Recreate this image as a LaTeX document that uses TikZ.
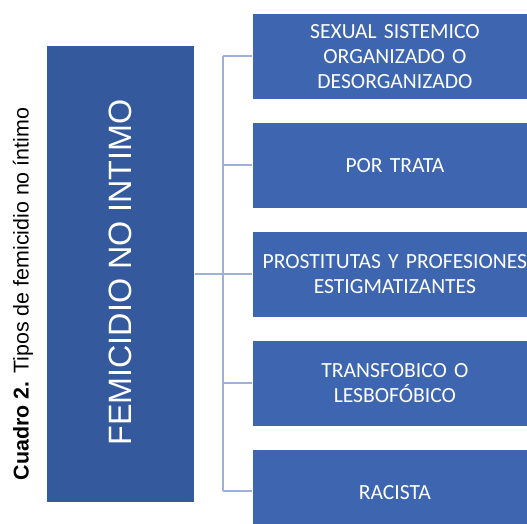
\documentclass[tikz,border=0pt]{standalone}
\usepackage{fontspec}
\setmainfont{Liberation Sans}
\newfontfamily\calfont[WordSpace=0.85]{Carlito}
\definecolor{leftblue}{HTML}{345A9D}
\definecolor{rightblue}{HTML}{3E66B0}
\definecolor{linkblue}{HTML}{9DB0DC}
\begin{document}
\begin{tikzpicture}[x=1pt,y=-1pt,
  mainbox/.style={fill=leftblue,draw=white,line width=0.8pt,inner sep=0pt},
  subbox/.style={fill=rightblue,draw=white,line width=0.8pt,inner sep=0pt,
    minimum width=285pt,minimum height=86pt,anchor=north west,
    text=white,font=\calfont\fontsize{21.6}{25}\selectfont,align=center,text width=285pt},
  link/.style={draw=linkblue,line width=1.2pt}]
\useasboundingbox (0,0) rectangle (527,523);
\clip (0,0) rectangle (527,523);
\node[mainbox,minimum width=148pt,minimum height=457pt,anchor=north west] (main) at (46,45) {};
\node[rotate=90,text=white,font=\fontsize{32.3}{36}\selectfont] (maintext) at (120,272.5) {FEMICIDIO NO INTIMO};
\node[rotate=90,font=\fontsize{21.4}{24}\selectfont] (cap) at (23,294) {\textbf{Cuadro 2.} Tipos de femicidio no íntimo};
\node[subbox] (b1) at (252,13) {SEXUAL SISTEMICO\\ORGANIZADO O\\DESORGANIZADO};
\node[subbox] (b2) at (252,122) {POR TRATA};
\node[subbox] (b3) at (252,231) {PROSTITUTAS Y PROFESIONES\\ESTIGMATIZANTES};
\node[subbox] (b4) at (252,340) {TRANSFOBICO O\\LESBOFÓBICO};
\node[subbox] (b5) at (252,449) {RACISTA};
\coordinate (j) at (223,274);
\coordinate (jt) at (223,56);
\coordinate (jb) at (223,491);
\draw[link] (main.east |- j) -- (j);
\draw[link] (jt) -- (jb);
\draw[link] (jt) -- (b1.west |- jt);
\draw[link] (223,165) -- (b2.west |- 0,165);
\draw[link] (j) -- (b3.west |- j);
\draw[link] (223,383) -- (b4.west |- 0,383);
\draw[link] (jb) -- (b5.west |- jb);
\end{tikzpicture}
\end{document}
